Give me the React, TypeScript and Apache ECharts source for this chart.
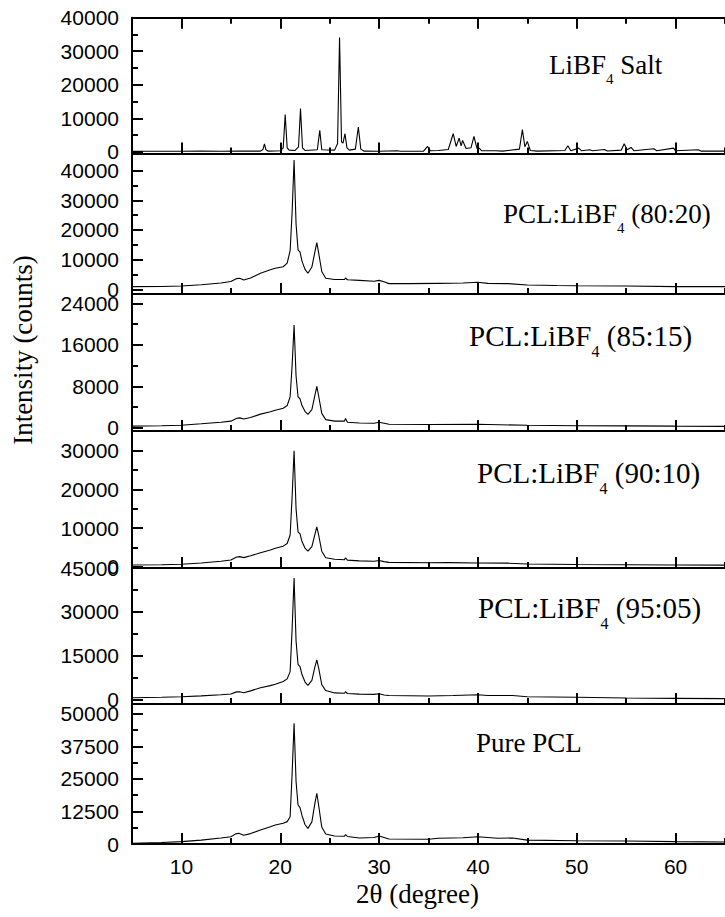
import React, { useEffect, useRef } from "react";
import * as echarts from "echarts";

// ---------- data ----------
const xMajorTicks = [10, 20, 30, 40, 50, 60];
const xMinorTicks = [15, 25, 35, 45, 55, 65];

const saltData: [number, number][] = [
  [5, 150], [8, 150], [10, 150], [12, 200], [14, 150], [16, 200], [18.0, 200], [18.25, 700], [18.4, 2400], [18.55, 600],
  [18.8, 200], [20.0, 300], [20.3, 1200], [20.5, 11100], [20.7, 1200], [20.9, 500], [21.5, 400], [21.85, 1500], [22.05, 12900],
  [22.25, 1200], [22.5, 400], [23.75, 600], [24.0, 6400], [24.2, 600], [25.5, 500], [25.8, 2500], [26.0, 34100], [26.2, 3000],
  [26.35, 2600], [26.55, 5400], [26.75, 1200], [27.0, 500], [27.6, 800], [27.9, 7400], [28.15, 800], [28.5, 200], [30, 150],
  [31.8, 300], [32.2, 150], [34.5, 200], [34.9, 1600], [35.2, 300], [36.0, 400], [37.0, 700], [37.5, 5400], [37.8, 1600],
  [38.1, 4100], [38.3, 1800], [38.45, 3400], [38.8, 1000], [39.3, 1200], [39.6, 4600], [39.9, 1000], [40.1, 1200], [40.4, 300],
  [41.8, 300], [42.5, 200], [44.2, 800], [44.5, 6600], [44.75, 1500], [45.0, 3100], [45.3, 400], [46, 200], [48.8, 400],
  [49.1, 1800], [49.4, 300], [50.2, 1100], [50.5, 300], [51.3, 600], [51.6, 300], [52.8, 700], [53.1, 250], [54.5, 500],
  [54.8, 2400], [55.1, 600], [55.5, 1300], [55.8, 300], [57.8, 900], [58.1, 300], [59.8, 1100], [60.0, 300], [62.3, 600],
  [62.6, 200], [65, 200],
];

const pcl8020Data: [number, number][] = [
  [5, 900], [8, 950], [10, 1100], [12, 1500], [14, 2100], [15, 2600], [15.6, 3600], [15.9, 3700], [16.3, 3100], [17, 3800],
  [18, 5400], [19, 6600], [19.5, 7100], [20.3, 7600], [20.7, 8800], [21.0, 13000], [21.2, 26000], [21.4, 43600], [21.6, 22000],
  [21.8, 13300], [22.0, 12500], [22.2, 9500], [22.5, 6800], [22.8, 5400], [23.2, 7500], [23.5, 12500], [23.7, 15700],
  [23.9, 12000], [24.2, 6000], [24.6, 3700], [25.5, 3300], [26.5, 3300], [26.6, 3800], [26.8, 3200], [28, 3000], [29.5, 2700],
  [30, 3000], [30.5, 2500], [31, 1900], [33, 1900], [36, 2000], [38.5, 2100], [40, 2350], [41, 2000], [43, 1900], [45, 1450],
  [48, 1250], [50, 1200], [55, 1100], [60, 900], [65, 900],
];

const pcl8515Data: [number, number][] = [
  [5, 330], [8, 400], [10, 520], [12, 800], [14, 1100], [15, 1300], [15.6, 1850], [15.9, 1930], [16.3, 1700], [17, 2000],
  [18, 2650], [19, 3100], [19.5, 3400], [20.3, 3800], [20.7, 4300], [21.0, 6000], [21.2, 12000], [21.4, 19800], [21.6, 10000],
  [21.8, 6000], [22.0, 5600], [22.2, 4300], [22.5, 3200], [22.8, 2600], [23.2, 3500], [23.5, 6200], [23.7, 8000], [23.9, 6000],
  [24.2, 2800], [24.6, 1600], [25.5, 1300], [26.5, 1300], [26.6, 1800], [26.8, 1100], [28, 950], [29.5, 900], [30, 1100],
  [30.5, 900], [31, 700], [35, 650], [40, 700], [45, 500], [50, 420], [55, 380], [60, 330], [65, 300],
];

const pcl9010Data: [number, number][] = [
  [5, 440], [8, 500], [10, 620], [12, 950], [14, 1400], [15, 1730], [15.6, 2500], [15.9, 2590], [16.3, 2330], [17, 2800],
  [18, 3620], [19, 4300], [19.5, 4760], [20.3, 5300], [20.7, 6000], [21.0, 8200], [21.2, 18000], [21.4, 30000], [21.6, 15000],
  [21.8, 9000], [22.0, 8500], [22.2, 6500], [22.5, 4800], [22.8, 4000], [23.2, 5200], [23.5, 8300], [23.7, 10300], [23.9, 8000],
  [24.2, 4000], [24.6, 2300], [25.5, 1900], [26.5, 1800], [26.6, 2300], [26.8, 1700], [28, 1500], [29.5, 1400], [30, 1600],
  [30.5, 1300], [31, 1100], [35, 1000], [37, 1050], [40, 950], [43, 900], [45, 700], [50, 570], [55, 500], [60, 440], [65, 400],
];

const pcl9505Data: [number, number][] = [
  [5, 550], [8, 700], [10, 900], [12, 1200], [14, 1550], [15, 1820], [15.6, 2550], [15.9, 2610], [16.3, 2270], [17, 2900],
  [18, 3990], [19, 4700], [19.5, 5150], [20.3, 6100], [20.7, 7000], [21.0, 9500], [21.2, 24000], [21.4, 41600], [21.6, 20000],
  [21.8, 12000], [22.0, 11200], [22.2, 8500], [22.5, 6000], [22.8, 4800], [23.2, 6500], [23.5, 11000], [23.7, 13500],
  [23.9, 10500], [24.2, 5000], [24.6, 3000], [25.5, 2200], [26.5, 2100], [26.6, 2600], [26.8, 2000], [28, 1800], [29.5, 1700],
  [30, 1900], [30.5, 1500], [31, 1300], [35, 1130], [37.5, 1300], [40, 1580], [41, 1300], [43.5, 1300], [45, 900], [50, 690],
  [55, 450], [60, 340], [65, 230],
];

const purePclData: [number, number][] = [
  [5, 250], [8, 600], [10, 900], [12, 1500], [14, 2300], [15, 2800], [15.5, 3900], [15.8, 4100], [16.3, 3350], [17, 4000],
  [18, 5400], [19, 6600], [19.5, 7300], [20.3, 8000], [20.7, 8600], [21.0, 10500], [21.2, 27000], [21.4, 46400], [21.6, 24000],
  [21.8, 15000], [22.0, 14000], [22.2, 11000], [22.5, 7500], [22.8, 6000], [23.2, 8500], [23.5, 15500], [23.7, 19500],
  [23.9, 14500], [24.2, 6500], [24.6, 3850], [25.5, 3100], [26.5, 3000], [26.6, 3600], [26.8, 2900], [28, 2300], [29.5, 2500],
  [30, 3100], [30.5, 2500], [31, 1900], [35, 1800], [36, 2200], [38.5, 2400], [40, 2800], [42, 2200], [43.5, 2300], [45, 1500],
  [50, 1270], [55, 1150], [60, 900], [65, 770],
];

const seriesData = [saltData, pcl8020Data, pcl8515Data, pcl9010Data, pcl9505Data, purePclData];

const yMin = [-500, -1600, -600, -350, -1600, 0];
const yMax = [40000, 45800, 25800, 35100, 45000, 53800];
const yMajorTicks = [
  [0, 10000, 20000, 30000, 40000],
  [0, 10000, 20000, 30000, 40000],
  [0, 8000, 16000, 24000],
  [0, 10000, 20000, 30000],
  [0, 15000, 30000, 45000],
  [0, 12500, 25000, 37500, 50000],
];
const yMinorTicks = [
  [5000, 15000, 25000, 35000],
  [5000, 15000, 25000, 35000],
  [4000, 12000, 20000],
  [5000, 15000, 25000],
  [7500, 22500, 37500],
  [6250, 18750, 31250, 43750],
];

const panelLabelMain = ["LiBF", "PCL:LiBF", "PCL:LiBF", "PCL:LiBF", "PCL:LiBF", "Pure PCL"];
const panelLabelSub = ["4", "4", "4", "4", "4", ""];
const panelLabelTail = [" Salt", " (80:20)", " (85:15)", " (90:10)", " (95:05)", ""];

const xTitle = "2θ (degree)";
const yTitle = "Intensity (counts)";

// ---------- layout ----------
const GRID_LEFT = 132;
const GRID_WIDTH = 600;
const panelTops = [17.7, 153.5, 294, 431, 568, 704];
const panelBottoms = [153.5, 294, 431, 568, 704, 844];
const labelPos = [
  [549, 64.5],
  [503, 213.8],
  [469, 336],
  [477, 473],
  [478, 608],
  [476, 743.3],
];
const labelFont = [27, 27, 29, 29, 29, 27];

const BLACK = "#000";
const SANS = "Liberation Sans";
const SERIF = "Liberation Serif";

const plainNumber = (v: number) => String(v);

function buildOption() {
  const grid: any[] = [];
  const xAxis: any[] = [];
  const yAxis: any[] = [];
  const series: any[] = [];
  const graphic: any[] = [];

  const tickStyle = { color: BLACK, width: 2 };

  for (let i = 0; i < 6; i++) {
    grid.push({
      left: GRID_LEFT,
      width: GRID_WIDTH,
      top: panelTops[i],
      height: panelBottoms[i] - panelTops[i],
      containLabel: false,
    });

    const xMajorIdx = xAxis.length;
    xAxis.push({
      gridIndex: i,
      type: "value",
      min: 5,
      max: 65,
      position: "bottom",
      axisLine: { show: true, onZero: false, lineStyle: tickStyle },
      axisTick: { show: true, inside: true, length: 11, customValues: xMajorTicks, lineStyle: tickStyle },
      axisLabel: {
        show: i === 5,
        customValues: xMajorTicks,
        formatter: plainNumber,
        margin: 12,
        fontSize: 21,
        fontFamily: SANS,
        color: BLACK,
      },
      splitLine: { show: false },
    });
    xAxis.push({
      gridIndex: i,
      type: "value",
      min: 5,
      max: 65,
      position: "bottom",
      axisLine: { show: false, onZero: false },
      axisTick: { show: true, inside: true, length: 6, customValues: xMinorTicks, lineStyle: tickStyle },
      axisLabel: { show: false },
      splitLine: { show: false },
    });
    if (i === 0) {
      xAxis.push({
        gridIndex: i,
        type: "value",
        min: 5,
        max: 65,
        position: "top",
        axisLine: { show: true, onZero: false, lineStyle: tickStyle },
        axisTick: { show: true, inside: true, length: 11, customValues: xMajorTicks, lineStyle: tickStyle },
        axisLabel: { show: false },
        splitLine: { show: false },
      });
      xAxis.push({
        gridIndex: i,
        type: "value",
        min: 5,
        max: 65,
        position: "top",
        axisLine: { show: false, onZero: false },
        axisTick: { show: true, inside: true, length: 6, customValues: xMinorTicks, lineStyle: tickStyle },
        axisLabel: { show: false },
        splitLine: { show: false },
      });
    }

    const yMajorIdx = yAxis.length;
    yAxis.push({
      gridIndex: i,
      type: "value",
      min: yMin[i],
      max: yMax[i],
      position: "left",
      axisLine: { show: true, onZero: false, lineStyle: tickStyle },
      axisTick: { show: true, inside: true, length: 11, customValues: yMajorTicks[i], lineStyle: tickStyle },
      axisLabel: {
        show: true,
        customValues: yMajorTicks[i],
        formatter: plainNumber,
        margin: 13,
        fontSize: 21,
        fontFamily: SANS,
        color: BLACK,
      },
      splitLine: { show: false },
    });
    yAxis.push({
      gridIndex: i,
      type: "value",
      min: yMin[i],
      max: yMax[i],
      position: "left",
      axisLine: { show: false, onZero: false },
      axisTick: { show: true, inside: true, length: 6, customValues: yMinorTicks[i], lineStyle: tickStyle },
      axisLabel: { show: false },
      splitLine: { show: false },
    });

    series.push({
      type: "line",
      xAxisIndex: xMajorIdx,
      yAxisIndex: yMajorIdx,
      data: seriesData[i],
      showSymbol: false,
      symbol: "none",
      silent: true,
      lineStyle: { color: BLACK, width: 1.1 },
    });

    const [lx, ly] = labelPos[i];
    const fs = labelFont[i];
    const lh = 43 * fs / 27;
    const subFs = Math.round(15 * fs / 27);
    const hasSub = panelLabelSub[i] !== "";
    graphic.push({
      type: "text",
      x: lx,
      y: ly - lh / 2,
      silent: true,
      style: {
        text: hasSub
          ? `{a|${panelLabelMain[i]}}{s|${panelLabelSub[i]}}{a|${panelLabelTail[i]}}`
          : `{a|${panelLabelMain[i]}}`,
        align: "left",
        verticalAlign: "top",
        rich: {
          a: { fontSize: fs, fontFamily: SERIF, fill: BLACK, lineHeight: lh, verticalAlign: "middle" },
          s: { fontSize: subFs, fontFamily: SERIF, fill: BLACK, lineHeight: subFs, verticalAlign: "bottom" },
        },
      },
    });
  }

  graphic.push({
    type: "text",
    x: 23,
    y: 350,
    rotation: Math.PI / 2,
    silent: true,
    style: {
      text: `{t|${yTitle}}`,
      align: "center",
      verticalAlign: "middle",
      rich: { t: { fontSize: 27, fontFamily: SERIF, fill: BLACK } },
    },
  });
  graphic.push({
    type: "text",
    x: 417.5,
    y: 894,
    silent: true,
    style: {
      text: `{t|${xTitle}}`,
      align: "center",
      verticalAlign: "middle",
      rich: { t: { fontSize: 27, fontFamily: SERIF, fill: BLACK } },
    },
  });

  return {
    animation: false,
    backgroundColor: "#fff",
    grid,
    xAxis,
    yAxis,
    series,
    graphic,
  };
}

export default function App() {
  const ref = useRef<HTMLDivElement>(null);
  useEffect(() => {
    if (!ref.current) return;
    const chart = echarts.init(ref.current, undefined, { renderer: "svg" });
    chart.setOption(buildOption());
    return () => chart.dispose();
  }, []);
  return (
    <div
      ref={ref}
      style={{ position: "absolute", left: 0, top: 0, width: 725, height: 917, background: "#fff" }}
    />
  );
}
